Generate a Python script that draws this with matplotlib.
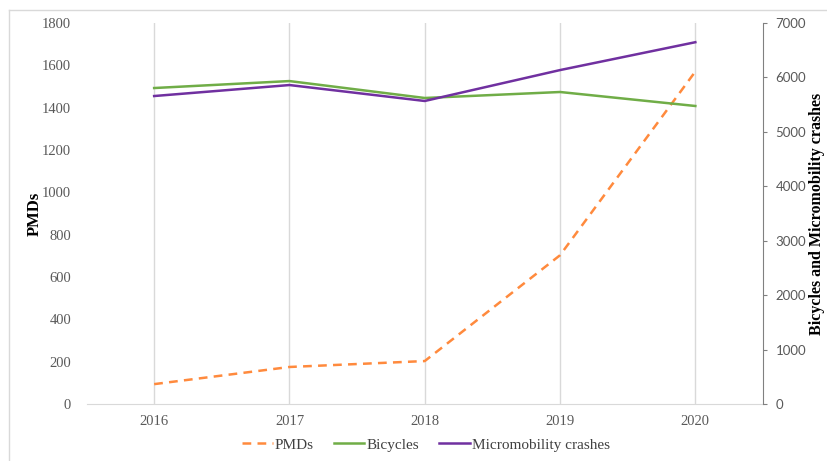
import matplotlib.pyplot as plt
from matplotlib.lines import Line2D

years = ["2016", "2017", "2018", "2019", "2020"]
pmds = [94, 175, 203, 703, 1571]
bicycles = [5806, 5934, 5623, 5733, 5476]
micromobility = [5659, 5861, 5568, 6136, 6648]

plt.rcParams['font.family'] = ['Liberation Serif', 'DejaVu Serif']

fig = plt.figure(figsize=(8.27, 4.61), dpi=100)
ax = fig.add_axes([0.1046, 0.1236, 0.818, 0.8264])
ax2 = ax.twinx()

x = range(len(years))
l1, = ax.plot(x, pmds, color="#FF8A3D", lw=1.8, ls=(0, (3.5, 2.5)), label="PMDs")
l2, = ax2.plot(x, bicycles, color="#70AD47", lw=1.8, label="Bicycles")
l3, = ax2.plot(x, micromobility, color="#7030A0", lw=1.8, label="Micromobility crashes")

ax.set_xlim(-0.5, 4.5)
ax.set_ylim(0, 1800)
ax.set_yticks(range(0, 1801, 200))
ax2.set_ylim(0, 7000)
ax2.set_yticks(range(0, 7001, 1000))
ax.set_xticks(list(x))
ax.set_xticklabels(years)

for i in x:
    ax.axvline(i, color="#D9D9D9", lw=1, zorder=0)

for s in ["top", "left", "right"]:
    ax.spines[s].set_visible(False)
    ax2.spines[s].set_visible(False)
ax2.spines["bottom"].set_visible(False)
ax.spines["bottom"].set_color("#D9D9D9")
ax2.spines["right"].set_visible(True)
ax2.spines["right"].set_color("#808080")

ax.tick_params(axis="y", length=0, labelsize=10.5, labelcolor="#595959", pad=11)
ax.tick_params(axis="x", length=0, labelsize=10.5, labelcolor="#595959", pad=8)
ax2.tick_params(axis="y", length=3, color="#808080", labelsize=9.5, labelcolor="#595959", pad=6)
for t in ax2.get_yticklabels():
    t.set_fontfamily("Lato")

ax.set_ylabel("PMDs", fontsize=12, fontweight="bold")
ax.yaxis.set_label_coords(-0.065, 0.5)
ax2.set_ylabel("Bicycles and Micromobility crashes", fontsize=11.5, fontweight="bold")
ax2.yaxis.set_label_coords(1.068, 0.5)

fig.legend(handles=[l1, l2, l3], loc="center", bbox_to_anchor=(0.515, 0.035), ncol=3,
           frameon=False, fontsize=11, handlelength=2.0, columnspacing=1.3,
           handletextpad=0.15, labelcolor="#404040")

# chart frame: only top and left edges fall inside the image
fig.add_artist(Line2D([0.011, 1.0], [0.978, 0.978], transform=fig.transFigure, color="#D9D9D9", lw=1))
fig.add_artist(Line2D([0.011, 0.011], [0.0, 0.978], transform=fig.transFigure, color="#D9D9D9", lw=1))

fig.savefig("out.png", dpi=100)
